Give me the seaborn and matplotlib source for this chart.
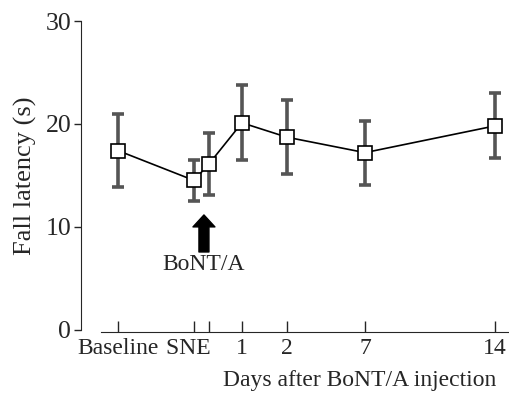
import seaborn as sns
import matplotlib.pyplot as plt
import pandas as pd

# time points (x positions follow the spacing of the original figure)
labels = ["Baseline", "SNE\u00a0\u00a0", "", "1", "2", "7", "14"]
x_pos = [3.7, 11.3, 12.8, 16.1, 20.6, 28.4, 41.4]
latency = [17.4, 14.5, 16.1, 20.1, 18.7, 17.2, 19.8]
sd = [3.55, 2.0, 3.0, 3.65, 3.6, 3.1, 3.15]

df = pd.DataFrame({"x": x_pos, "latency": latency, "sd": sd})

sns.set_style("ticks")
plt.rcParams["font.family"] = ["Liberation Serif", "DejaVu Serif"]

fig = plt.figure(figsize=(5.09, 3.94), dpi=100)
ax = fig.add_axes([0.159, 0.1637, 0.841, 0.783])

# error bars behind the markers
ax.errorbar(df["x"], df["latency"], yerr=df["sd"], fmt="none",
            ecolor="#555555", elinewidth=2.6, capsize=4.5, capthick=2.6, zorder=1)

sns.lineplot(data=df, x="x", y="latency", ax=ax, color="black", linewidth=1.2,
             marker="s", markersize=9.5, markerfacecolor="white",
             markeredgecolor="black", markeredgewidth=1.2, zorder=3)

ax.set_xlim(0, 42.8)
ax.set_ylim(0, 30)
ax.set_yticks([0, 10, 20, 30])
ax.set_xticks(x_pos)
ax.set_xticklabels(labels)

ax.tick_params(axis="y", direction="out", length=5, width=1, labelsize=18.5, pad=2)
ax.tick_params(axis="x", direction="in", length=8, width=1, labelsize=17, pad=4)

ax.spines["top"].set_visible(False)
ax.spines["right"].set_visible(False)
ax.spines["left"].set_bounds(0, 30)
ax.spines["bottom"].set_position(("outward", 2))
ax.spines["bottom"].set_bounds(1.97, 42.8)

ax.set_ylabel("Fall latency (s)", fontsize=19, labelpad=6)
ax.set_xlabel("Days after BoNT/A injection", fontsize=17)
ax.xaxis.set_label_coords(0.65, -0.13)

# injection arrow
ax.annotate("", xy=(12.3, 11.14), xytext=(12.3, 7.54),
            arrowprops=dict(facecolor="black", edgecolor="black", shrink=0,
                            width=7.2, headwidth=15.8, headlength=8.6))
ax.text(12.3, 5.8, "BoNT/A", ha="center", va="baseline", fontsize=17)

fig.savefig("out.png", dpi=100)
